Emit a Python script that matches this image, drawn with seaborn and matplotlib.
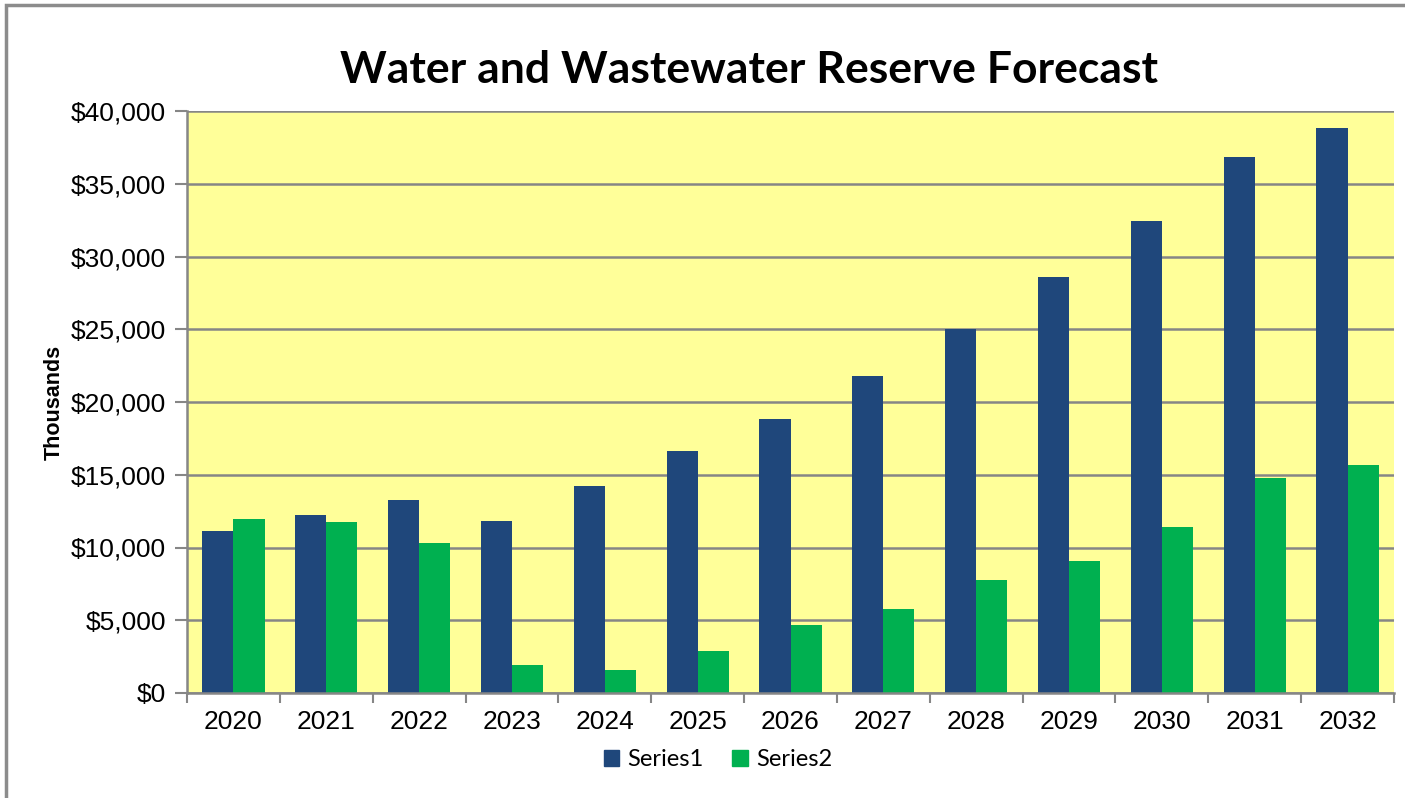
import pandas as pd
import numpy as np
import matplotlib.pyplot as plt
import seaborn as sns
from matplotlib.patches import Rectangle
from matplotlib.ticker import FixedLocator, StrMethodFormatter

# values in thousands of dollars
years = ['2020', '2021', '2022', '2023', '2024', '2025', '2026',
         '2027', '2028', '2029', '2030', '2031', '2032']
series1 = [11100, 12200, 13250, 11800, 14250, 16650, 18850,
           21800, 25000, 28600, 32450, 36850, 38850]
series2 = [11950, 11750, 10300, 1950, 1600, 2900, 4700,
           5750, 7750, 9050, 11400, 14750, 15650]
series_names = ['Series1', 'Series2']

df = pd.DataFrame({
    'year': years * 2,
    'value': series1 + series2,
    'series': [series_names[0]] * len(years) + [series_names[1]] * len(years),
})

sns.set_style('white')
plt.rcParams['font.family'] = ['Liberation Sans', 'DejaVu Sans']
plt.rcParams['text.color'] = 'black'
plt.rcParams['xtick.color'] = 'black'
plt.rcParams['ytick.color'] = 'black'
plt.rcParams['axes.labelcolor'] = 'black'

fig = plt.figure(figsize=(14.05, 7.98), dpi=100)
ax = fig.add_axes([187 / 1405, 1 - 693 / 798, (1394 - 187) / 1405, (693 - 111) / 798])

sns.barplot(data=df, x='year', y='value', hue='series',
            palette=['#1F477B', '#00B050'], width=0.67,
            saturation=1, linewidth=0, ax=ax, legend=False)

ax.set_facecolor('#FFFF99')
ax.set_ylim(0, 40000)
ax.set_xlim(-0.5, len(years) - 0.5)
ax.set_yticks(np.arange(0, 40001, 5000))
ax.yaxis.set_major_formatter(StrMethodFormatter('${x:,.0f}'))
ax.grid(axis='y', color='#868686', linewidth=1.8)
ax.set_axisbelow(True)

for s in ['top', 'right']:
    ax.spines[s].set_visible(False)
for s in ['left', 'bottom']:
    ax.spines[s].set_color('#868686')
    ax.spines[s].set_linewidth(1.8)

ax.tick_params(axis='y', which='major', length=9, width=1.5, color='#868686',
               labelcolor='black', labelsize=19, pad=6, left=True)
ax.tick_params(axis='x', which='major', length=0, labelsize=19, pad=12,
               labelcolor='black')
ax.xaxis.set_minor_locator(FixedLocator(np.arange(-0.5, len(years), 1.0)))
ax.tick_params(axis='x', which='minor', length=7, width=1.5, color='#868686', bottom=True)

ax.set_xlabel('')
ax.set_ylabel('Thousands', fontsize=15.5, fontweight='bold', color='black')
ax.yaxis.set_label_coords(-0.101, 0.5)

fig.text(749 / 1405, 1 - 70 / 798, 'Water and Wastewater Reserve Forecast',
         ha='center', va='center', fontsize=32, fontweight='bold', color='black',
         family=['Lato', 'DejaVu Sans'])

handles = [plt.Rectangle((0, 0), 1, 1, color=c) for c in ['#1F477B', '#00B050']]
fig.legend(handles, series_names, loc='center', bbox_to_anchor=(718 / 1405, 1 - 760 / 798),
           ncol=2, frameon=False, handlelength=0.65, handleheight=0.65,
           handletextpad=0.35, columnspacing=1.2,
           prop={'family': ['Lato', 'DejaVu Sans'], 'size': 17})

# chart border (right and bottom edges are cropped in the original)
fig.patches.append(Rectangle((6 / 1405, -0.02), 1.1, 1.02 - 5 / 798,
                             transform=fig.transFigure, fill=False,
                             edgecolor='#8C8C8C', linewidth=2.5))

fig.savefig('out.png', dpi=100)
